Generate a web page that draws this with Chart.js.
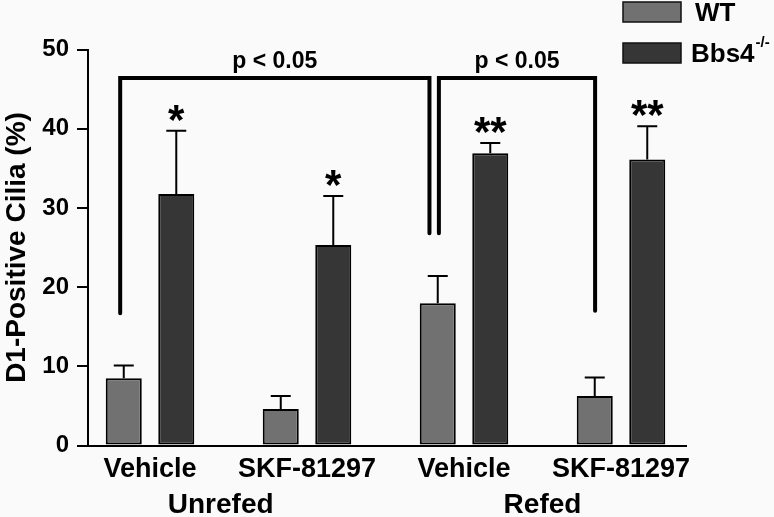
<!DOCTYPE html>
<html>
<head>
<meta charset="utf-8">
<script src="https://cdn.jsdelivr.net/npm/chart.js@4.4.1/dist/chart.umd.min.js"></script>
<style>
  html, body { margin: 0; padding: 0; background: #fafafa; }
  #wrap { position: relative; width: 774px; height: 517px; }
</style>
</head>
<body>
<div id="wrap"><canvas id="cilia-chart" width="774" height="517"></canvas></div>
<script>
// Data
const treatments = ['Vehicle', 'SKF-81297', 'Vehicle', 'SKF-81297'];
const conditions = ['Unrefed', 'Refed'];
const conditionCenters = [0.45, 2.5];
const seriesNames = ['WT', 'Bbs4'];
const seriesSuper = ['', '-/-'];
const wtValues = [8.5, 4.6, 17.95, 6.25];
const wtErrors = [1.6, 1.65, 3.45, 2.35];
const bbsValues = [31.75, 25.3, 36.9, 36.1];
const bbsErrors = [8.0, 6.2, 1.3, 4.2];
const bbsStars = ['*', '*', '**', '**'];
const yTicks = [0, 10, 20, 30, 40, 50];
// significance brackets: [x start, x end, top, left foot, right foot]
const brackets = [
    [-0.19, 1.78, 46.4, 16.7, 26.8],
    [1.84, 2.835, 46.4, 26.8, 17.0]
];
const bracketText = 'p < 0.05';

const FONT = '"Liberation Sans", Arial, sans-serif';
Chart.defaults.font.family = FONT;
Chart.defaults.color = '#000';

// error bars, stars, brackets, group labels and legend
const annotations = {
    id: 'annotations',
    afterDatasetsDraw(chart) {
        const c = chart.ctx;
        const xs = chart.scales.x;
        const ys = chart.scales.y;
        c.save();
        c.strokeStyle = '#000';
        c.fillStyle = '#000';

        // error bars
        chart.data.datasets.forEach((ds, di) => {
            const meta = chart.getDatasetMeta(di);
            meta.data.forEach((bar, i) => {
                const top = ys.getPixelForValue(ds.data[i].y + ds.errors[i]);
                c.lineWidth = 2;
                c.beginPath();
                c.moveTo(bar.x, bar.y);
                c.lineTo(bar.x, top);
                c.moveTo(bar.x - 10, top);
                c.lineTo(bar.x + 10, top);
                c.stroke();
            });
        });

        // stars over Bbs4 bars
        const meta1 = chart.getDatasetMeta(1);
        c.font = 'bold 42px ' + FONT;
        c.textAlign = 'center';
        c.textBaseline = 'alphabetic';
        meta1.data.forEach((bar, i) => {
            const top = ys.getPixelForValue(bbsValues[i] + bbsErrors[i]);
            c.fillText(bbsStars[i], bar.x, top + 3);
        });

        // brackets
        c.lineWidth = 4;
        c.lineJoin = 'miter';
        c.lineCap = 'round';
        c.font = 'bold 23px ' + FONT;
        brackets.forEach(b => {
            const x1 = xs.getPixelForValue(b[0]);
            const x2 = xs.getPixelForValue(b[1]);
            const yt = ys.getPixelForValue(b[2]);
            c.beginPath();
            c.moveTo(x1, ys.getPixelForValue(b[3]));
            c.lineTo(x1, yt);
            c.lineTo(x2, yt);
            c.lineTo(x2, ys.getPixelForValue(b[4]));
            c.stroke();
            c.fillText(bracketText, (x1 + x2) / 2, yt - 10);
        });

        // condition labels under the axis
        c.font = 'bold 28px ' + FONT;
        conditions.forEach((name, i) => {
            c.fillText(name, xs.getPixelForValue(conditionCenters[i]), 513);
        });

        // legend
        c.textAlign = 'left';
        chart.data.datasets.forEach((ds, di) => {
            const by = 2 + di * 41;
            c.fillStyle = ds.backgroundColor;
            c.fillRect(623, by, 58, 20);
            c.lineWidth = 1.5;
            c.strokeStyle = '#111';
            c.strokeRect(623, by, 58, 20);
            c.fillStyle = '#000';
            c.font = 'bold 26px ' + FONT;
            const tx = di === 0 ? 695 : 691;
            c.fillText(seriesNames[di], tx, by + 19);
            if (seriesSuper[di]) {
                const w = c.measureText(seriesNames[di]).width;
                c.font = 'bold 15px ' + FONT;
                c.fillText(seriesSuper[di], tx + w + 1, by + 4);
            }
        });
        c.restore();
    }
};

const chart = new Chart(document.getElementById('cilia-chart'), {
    type: 'bar',
    data: {
        datasets: [
            {
                label: seriesNames[0],
                data: wtValues.map((v, i) => ({ x: i, y: v })),
                errors: wtErrors,
                backgroundColor: '#717171',
                borderColor: '#000',
                borderWidth: 2,
                borderSkipped: false
            },
            {
                label: seriesNames[1] + seriesSuper[1],
                data: bbsValues.map((v, i) => ({ x: i, y: v })),
                errors: bbsErrors,
                backgroundColor: '#363636',
                borderColor: '#000',
                borderWidth: 2,
                borderSkipped: false
            }
        ]
    },
    options: {
        responsive: false,
        animation: false,
        devicePixelRatio: 1,
        categoryPercentage: 0.669,
        barPercentage: 0.686,
        layout: { padding: { top: 49.5, right: 88, bottom: 0, left: 0 } },
        plugins: {
            legend: { display: false },
            tooltip: { enabled: false }
        },
        scales: {
            x: {
                type: 'linear',
                offset: false,
                min: -0.395,
                max: 3.414,
                afterBuildTicks: s => { s.ticks = treatments.map((t, i) => ({ value: i })); },
                afterFit: s => { s.height = 71.5; },
                grid: { display: false, drawTicks: false, offset: false },
                border: { display: true, color: '#000', width: 2 },
                ticks: {
                    callback: v => treatments[v],
                    font: { size: 27, weight: 'bold' },
                    color: '#000',
                    padding: 8,
                    maxRotation: 0,
                    autoSkip: false
                }
            },
            y: {
                min: 0,
                max: 50,
                afterBuildTicks: s => { s.ticks = yTicks.map(v => ({ value: v })); },
                afterFit: s => { s.width = 88; },
                grid: { drawOnChartArea: false, drawTicks: true, tickLength: 11, color: '#000', lineWidth: 2 },
                border: { display: true, color: '#000', width: 2 },
                ticks: { font: { size: 24, weight: 'bold' }, color: '#000', padding: 8 },
                title: {
                    display: true,
                    text: 'D1-Positive Cilia (%)',
                    font: { size: 28, weight: 'bold' },
                    color: '#000',
                    padding: 0
                }
            }
        }
    },
    plugins: [annotations]
});
</script>
</body>
</html>
